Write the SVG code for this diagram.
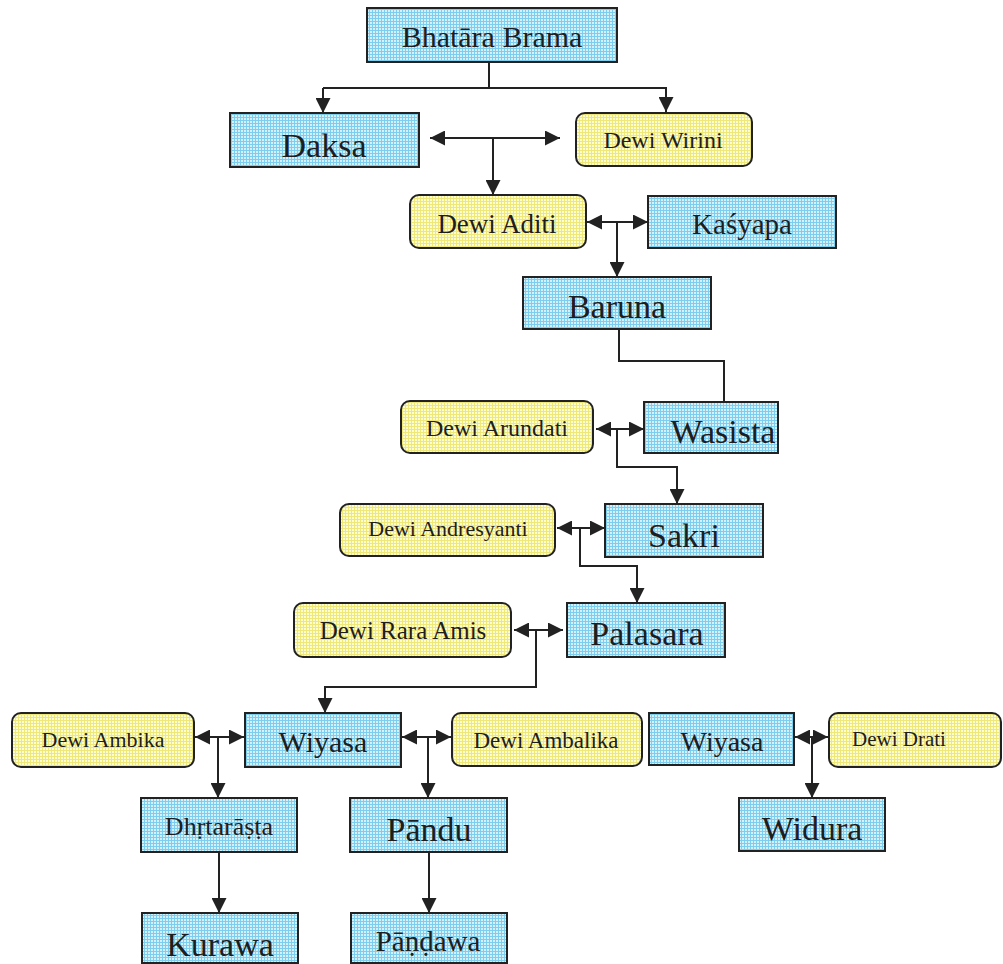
<svg xmlns="http://www.w3.org/2000/svg" width="1003" height="964" viewBox="0 0 1003 964">
<defs>
<pattern id="pb" width="3" height="3" patternUnits="userSpaceOnUse">
<rect width="3" height="3" fill="#d4f0fb"/>
<path d="M0,0.5H3M0.5,0V3" stroke="#7ccdee" stroke-width="1"/>
</pattern>
<pattern id="py" width="3" height="3" patternUnits="userSpaceOnUse">
<rect width="3" height="3" fill="#fdfdd2"/>
<path d="M0,0.5H3M0.5,0V3" stroke="#efe878" stroke-width="1"/>
</pattern>
<marker id="ah" viewBox="0 0 12 12" refX="12" refY="6" markerWidth="15" markerHeight="15" markerUnits="userSpaceOnUse" orient="auto-start-reverse">
<path d="M0,0L12,6L0,12Z" fill="#222"/>
</marker>
<style>
.b{fill:url(#pb);stroke:#222;stroke-width:2}
.y{fill:url(#py);stroke:#222;stroke-width:2}
.t{font-family:"Liberation Serif","Times New Roman",serif;fill:#1e1e1e;text-anchor:middle}
.c{fill:none;stroke:#222;stroke-width:2}
.a{marker-end:url(#ah)}
.d{marker-start:url(#ah);marker-end:url(#ah)}
</style>
</defs>
<rect width="1003" height="964" fill="#fff"/>
<g id="connectors">
<path class="c" d="M489,62V88"/>
<path class="c a" d="M323,88V113"/>
<path class="c a" d="M489,88H666V112"/>
<path class="c" d="M323,88H489"/>
<path class="c d" d="M430,138H560"/>
<path class="c a" d="M493,138V195"/>
<path class="c d" d="M587,222H648"/>
<path class="c a" d="M617,222V277"/>
<path class="c" d="M619,330V361H724V402"/>
<path class="c d" d="M596,429H644"/>
<path class="c a" d="M617,429V467H677V504"/>
<path class="c d" d="M557,528H605"/>
<path class="c a" d="M580,528V566H637V603"/>
<path class="c d" d="M514,630H563"/>
<path class="c a" d="M536,630V687H325V713"/>
<path class="c d" d="M195,737H244"/>
<path class="c a" d="M218,737V798"/>
<path class="c d" d="M402,737H451"/>
<path class="c a" d="M428,737V798"/>
<path class="c d" d="M795,737H828"/>
<path class="c a" d="M812,737V798"/>
<path class="c a" d="M219,852V913"/>
<path class="c a" d="M429,852V913"/>
</g>
<g id="bhatara-brama"><rect class="b" x="367" y="8" width="250" height="54"/><text class="t" x="492" y="47" font-size="30">Bhatāra Brama</text></g>
<g id="daksa"><rect class="b" x="230" y="113" width="189" height="54"/><text class="t" x="324" y="157" font-size="34">Daksa</text></g>
<g id="dewi-wirini"><rect class="y" x="576" y="113" width="176" height="53" rx="9"/><text class="t" x="663" y="148" font-size="24">Dewi Wirini</text></g>
<g id="dewi-aditi"><rect class="y" x="410" y="195" width="176" height="53" rx="9"/><text class="t" x="497" y="233" font-size="27">Dewi Aditi</text></g>
<g id="kasyapa"><rect class="b" x="648" y="196" width="188" height="52"/><text class="t" x="742" y="234" font-size="29">Kaśyapa</text></g>
<g id="baruna"><rect class="b" x="523" y="277" width="188" height="52"/><text class="t" x="617" y="318" font-size="34">Baruna</text></g>
<g id="dewi-arundati"><rect class="y" x="401" y="401" width="192" height="52" rx="9"/><text class="t" x="497" y="436" font-size="24">Dewi Arundati</text></g>
<g id="wasista"><rect class="b" x="644" y="402" width="134" height="51"/><text class="t" x="723" y="443" font-size="34">Wasista</text></g>
<g id="dewi-andresyanti"><rect class="y" x="340" y="504" width="215" height="52" rx="9"/><text class="t" x="448" y="536" font-size="22">Dewi Andresyanti</text></g>
<g id="sakri"><rect class="b" x="605" y="504" width="158" height="53"/><text class="t" x="684" y="547" font-size="34">Sakri</text></g>
<g id="dewi-rara-amis"><rect class="y" x="294" y="603" width="217" height="54" rx="9"/><text class="t" x="403" y="639" font-size="25">Dewi Rara Amis</text></g>
<g id="palasara"><rect class="b" x="567" y="603" width="158" height="54"/><text class="t" x="647" y="645" font-size="34">Palasara</text></g>
<g id="dewi-ambika"><rect class="y" x="12" y="713" width="182" height="54" rx="9"/><text class="t" x="103" y="747" font-size="22">Dewi Ambika</text></g>
<g id="wiyasa-1"><rect class="b" x="245" y="713" width="156" height="54"/><text class="t" x="323" y="752" font-size="30">Wiyasa</text></g>
<g id="dewi-ambalika"><rect class="y" x="452" y="713" width="190" height="53" rx="9"/><text class="t" x="546" y="748" font-size="23">Dewi Ambalika</text></g>
<g id="wiyasa-2"><rect class="b" x="649" y="713" width="145" height="52"/><text class="t" x="722" y="751" font-size="28">Wiyasa</text></g>
<g id="dewi-drati"><rect class="y" x="829" y="713" width="172" height="54" rx="9"/><text class="t" x="899" y="746" font-size="21">Dewi Drati</text></g>
<g id="dhrtarasta"><rect class="b" x="141" y="798" width="156" height="54"/><text class="t" x="219" y="835" font-size="26">Dhṛtarāṣṭa</text></g>
<g id="pandu"><rect class="b" x="350" y="798" width="157" height="54"/><text class="t" x="429" y="841" font-size="34">Pāndu</text></g>
<g id="widura"><rect class="b" x="739" y="798" width="146" height="53"/><text class="t" x="812" y="840" font-size="34">Widura</text></g>
<g id="kurawa"><rect class="b" x="142" y="913" width="156" height="50"/><text class="t" x="220" y="956" font-size="34">Kurawa</text></g>
<g id="pandawa"><rect class="b" x="351" y="913" width="156" height="50"/><text class="t" x="428" y="951" font-size="29">Pāṇḍawa</text></g>
</svg>
